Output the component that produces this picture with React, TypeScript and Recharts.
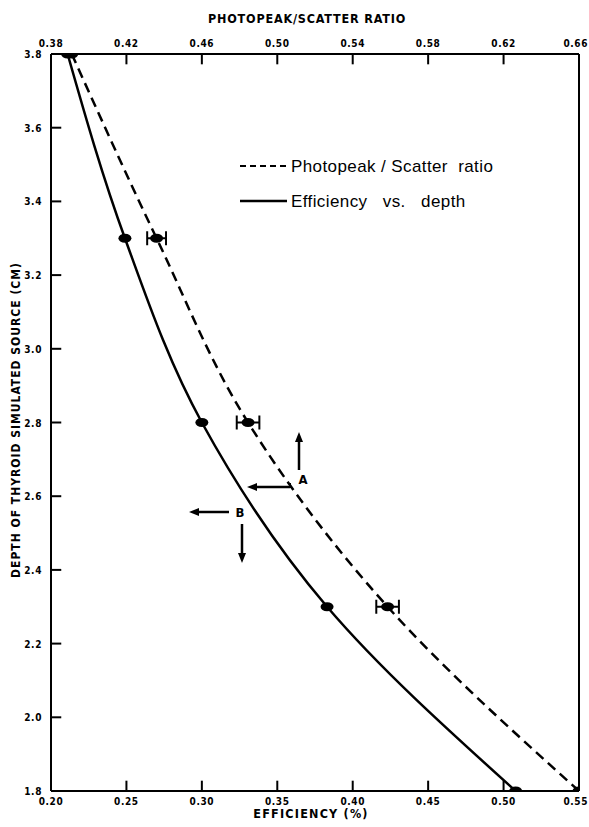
import React from 'react';
import { LineChart, Line, XAxis, YAxis, ErrorBar, ReferenceLine } from 'recharts';

const depths = [3.8, 3.3, 2.8, 2.3, 1.8];
const efficiency = [0.211, 0.249, 0.3, 0.383, 0.508];
const ratio = [0.391, 0.436, 0.4845, 0.5585, 0.66];
const ratioErr = [0, 0.005, 0.006, 0.006, 0];

const effTicks = [0.2, 0.25, 0.3, 0.35, 0.4, 0.45, 0.5, 0.55];
const ratioTicks = [0.38, 0.42, 0.46, 0.5, 0.54, 0.58, 0.62, 0.66];
const depthTicks = [1.8, 2.0, 2.2, 2.4, 2.6, 2.8, 3.0, 3.2, 3.4, 3.6, 3.8];

const data = depths.map((d, i) => ({
  depth: d,
  eff: efficiency[i],
  ratio: ratio[i],
  ratioErr: ratioErr[i],
}));

// tick mark lengths expressed in axis units (about 10px each)
const TICK_DEPTH = 0.028;
const TICK_EFF = 0.0068;

const tickFont = "'DejaVu Sans Condensed', 'Liberation Sans Narrow', sans-serif";

const BottomTick = (props: any) => {
  const { x, y, payload, index } = props;
  const last = index === effTicks.length - 1;
  return (
    <text x={last ? x + 9 : x} y={y + 14} textAnchor={last ? 'end' : 'middle'} fontFamily={tickFont} fontWeight="bold" fontSize={10} letterSpacing={0.6} fill="#000">
      {payload.value.toFixed(2)}
    </text>
  );
};

const TopTick = (props: any) => {
  const { x, y, payload, index } = props;
  const last = index === ratioTicks.length - 1;
  return (
    <text x={last ? x + 9 : x} y={y - 7} textAnchor={last ? 'end' : 'middle'} fontFamily={tickFont} fontWeight="bold" fontSize={10} letterSpacing={0.6} fill="#000">
      {payload.value.toFixed(2)}
    </text>
  );
};

const LeftTick = (props: any) => {
  const { x, y, payload } = props;
  return (
    <text x={x - 9} y={y + 4} textAnchor="end" fontFamily={tickFont} fontWeight="bold" fontSize={10} letterSpacing={0.6} fill="#000">
      {payload.value.toFixed(1)}
    </text>
  );
};

const Blob = (props: any) => {
  const { cx, cy } = props;
  if (cx == null || cy == null) return <g />;
  return <ellipse cx={cx} cy={cy} rx={6.5} ry={4.5} fill="#000" />;
};

const Arrow = ({ x1, y1, x2, y2 }: { x1: number; y1: number; x2: number; y2: number }) => {
  const dx = x2 - x1;
  const dy = y2 - y1;
  const len = Math.sqrt(dx * dx + dy * dy);
  const ux = dx / len;
  const uy = dy / len;
  const hl = 10;
  const hw = 4;
  const bx = x2 - ux * hl;
  const by = y2 - uy * hl;
  return (
    <g>
      <line x1={x1} y1={y1} x2={bx} y2={by} stroke="#000" strokeWidth={2.5} />
      <polygon
        points={`${x2},${y2} ${bx - uy * hw},${by + ux * hw} ${bx + uy * hw},${by - ux * hw}`}
        fill="#000"
      />
    </g>
  );
};

const axisStyle = { stroke: '#000', strokeWidth: 2 };

export default function App() {
  return (
    <div style={{ position: 'absolute', left: 0, top: 0, width: 589, height: 827, background: '#fff' }}>
      <LineChart
        width={589}
        height={827}
        data={data}
        layout="vertical"
        margin={{ top: 0, right: 10, bottom: 0, left: 0 }}
      >
        <XAxis xAxisId="eff" type="number" orientation="bottom" domain={[0.2, 0.55]} ticks={effTicks} interval={0} height={36} tickSize={0} tickMargin={0} tickLine={false} axisLine={axisStyle} tick={<BottomTick />} allowDataOverflow />
        <XAxis xAxisId="ratio" type="number" orientation="top" domain={[0.38, 0.66]} ticks={ratioTicks} interval={0} height={54} tickSize={0} tickMargin={0} tickLine={false} axisLine={axisStyle} tick={<TopTick />} allowDataOverflow />
        <YAxis type="number" dataKey="depth" domain={[1.8, 3.8]} ticks={depthTicks} reversed interval={0} width={51} tickSize={0} tickMargin={0} tickLine={false} axisLine={axisStyle} tick={<LeftTick />} allowDataOverflow />
        <ReferenceLine xAxisId="eff" x={0.55} stroke="#000" strokeWidth={2} />
        {effTicks.slice(1, -1).map((t) => (
          <ReferenceLine key={`be${t}`} xAxisId="eff" segment={[{ x: t, y: 1.8 }, { x: t, y: 1.8 + TICK_DEPTH }]} stroke="#000" strokeWidth={2} ifOverflow="visible" />
        ))}
        {ratioTicks.slice(1, -1).map((t) => (
          <ReferenceLine key={`tr${t}`} xAxisId="ratio" segment={[{ x: t, y: 3.8 }, { x: t, y: 3.8 - TICK_DEPTH }]} stroke="#000" strokeWidth={2} ifOverflow="visible" />
        ))}
        {depthTicks.slice(1, -1).map((d) => (
          <ReferenceLine key={`ld${d}`} xAxisId="eff" segment={[{ x: 0.2, y: d }, { x: 0.2 + TICK_EFF, y: d }]} stroke="#000" strokeWidth={2} ifOverflow="visible" />
        ))}
        <Line xAxisId="eff" dataKey="eff" type="monotone" stroke="#000" strokeWidth={2.5} dot={<Blob />} isAnimationActive={false} />
        <Line xAxisId="ratio" dataKey="ratio" type="monotone" stroke="#000" strokeWidth={2.5} strokeDasharray="10 6" dot={<Blob />} isAnimationActive={false}>
          <ErrorBar dataKey="ratioErr" direction="x" width={7} stroke="#000" strokeWidth={2} />
        </Line>
      </LineChart>
      <svg
        width={589}
        height={827}
        style={{ position: 'absolute', left: 0, top: 0, pointerEvents: 'none' }}
      >
        <text x={307} y={23} textAnchor="middle" fontFamily={tickFont} fontWeight="bold" fontSize={12.5} letterSpacing={0.8} fill="#000">
          PHOTOPEAK/SCATTER RATIO
        </text>
        <text x={311} y={818} textAnchor="middle" fontFamily={tickFont} fontWeight="bold" fontSize={12.5} letterSpacing={1.2} fill="#000">
          EFFICIENCY (%)
        </text>
        <text
          x={20}
          y={420}
          textAnchor="middle"
          transform="rotate(-90 20 420)"
          fontFamily={tickFont}
          fontWeight="bold"
          fontSize={12}
          letterSpacing={1}
          fill="#000"
        >
          DEPTH OF THYROID SIMULATED SOURCE (CM)
        </text>
        <line x1={240} x2={287} y1={166} y2={166} stroke="#000" strokeWidth={2} strokeDasharray="6 4" />
        <text x={291} y={172} fontFamily="'Liberation Sans', Arial, sans-serif" fontSize={17} letterSpacing={0.4} style={{ whiteSpace: 'pre' }} fill="#000">
          {'Photopeak / Scatter  ratio'}
        </text>
        <line x1={240} x2={287} y1={201} y2={201} stroke="#000" strokeWidth={2.5} />
        <text x={291} y={207} fontFamily="'Liberation Sans', Arial, sans-serif" fontSize={17} letterSpacing={0.4} style={{ whiteSpace: 'pre' }} fill="#000">
          {'Efficiency   vs.   depth'}
        </text>
        <Arrow x1={299} y1={470} x2={299} y2={432} />
        <Arrow x1={290} y1={487} x2={247} y2={487} />
        <line x1={290} y1={483} x2={290} y2={488} stroke="#000" strokeWidth={2} />
        <text x={303} y={484} textAnchor="middle" fontFamily={tickFont} fontWeight="bold" fontSize={13} fill="#000">A</text>
        <Arrow x1={229} y1={512} x2={189} y2={512} />
        <text x={240} y={517} textAnchor="middle" fontFamily={tickFont} fontWeight="bold" fontSize={13} fill="#000">B</text>
        <Arrow x1={242} y1={524} x2={242} y2={563} />
      </svg>
    </div>
  );
}
